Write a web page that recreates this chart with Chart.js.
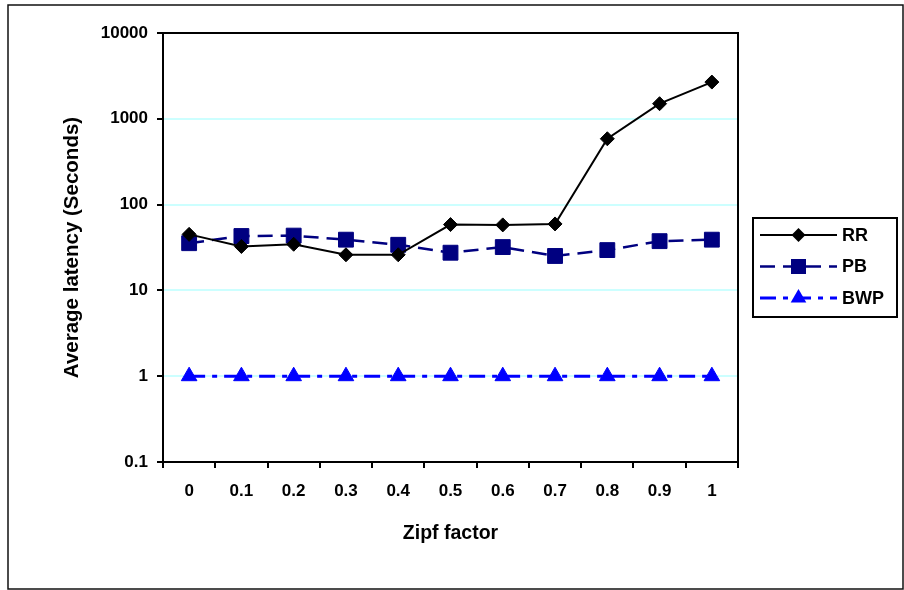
<!DOCTYPE html>
<html>
<head>
<meta charset="utf-8">
<script src="https://cdn.jsdelivr.net/npm/chart.js@4.4.1/dist/chart.umd.min.js"></script>
<style>
  html, body { margin: 0; padding: 0; background: #fff; }
  #wrap { width: 904px; height: 590px; position: relative; }
</style>
</head>
<body>
<div id="wrap"><canvas id="latencyChart" width="904" height="590"></canvas></div>
<script>
// Zipf factor categories
const zipfLabels = ['0', '0.1', '0.2', '0.3', '0.4', '0.5', '0.6', '0.7', '0.8', '0.9', '1'];

// Average latency (seconds)
const rrValues  = [45, 32.5, 34.5, 26, 26, 58.5, 58, 59.5, 585, 1500, 2680];
const pbValues  = [35.5, 43, 43.5, 39, 34, 27.5, 32, 25.2, 29.5, 37.5, 39];
const bwpValues = [1, 1, 1, 1, 1, 1, 1, 1, 1, 1, 1];

// y axis tick labels (log scale)
const yTickValues = [0.1, 1, 10, 100, 1000, 10000];

const FONT = "'Liberation Sans', Arial, sans-serif";

// frame round the whole chart + top/right edge of the plot area
const framePlugin = {
  id: 'frame',
  beforeDraw(chart) {
    const ctx = chart.ctx;
    ctx.save();
    ctx.fillStyle = '#fff';
    ctx.fillRect(0, 0, chart.width, chart.height);
    ctx.strokeStyle = '#111';
    ctx.lineWidth = 1.5;
    ctx.strokeRect(8, 5, 895, 584);
    ctx.restore();
  },
  afterDatasetsDraw(chart) {
    const { left, right, top, bottom } = chart.chartArea;
    const ctx = chart.ctx;
    ctx.save();
    ctx.strokeStyle = '#000';
    ctx.lineWidth = 2;
    ctx.beginPath();
    ctx.moveTo(left, top);
    ctx.lineTo(right, top);
    ctx.lineTo(right, bottom);
    ctx.stroke();
    ctx.restore();
  }
};

function drawMarker(ctx, style, x, y, color) {
  ctx.fillStyle = color;
  ctx.beginPath();
  if (style === 'rectRot') {
    ctx.moveTo(x - 7, y); ctx.lineTo(x, y - 7); ctx.lineTo(x + 7, y); ctx.lineTo(x, y + 7);
  } else if (style === 'rect') {
    ctx.rect(x - 7.5, y - 7.5, 15, 15);
  } else {
    ctx.moveTo(x, y - 9); ctx.lineTo(x + 7.8, y + 4.5); ctx.lineTo(x - 7.8, y + 4.5);
  }
  ctx.closePath();
  ctx.fill();
}

// boxed legend with line sample and marker in the middle
const boxLegend = {
  id: 'boxLegend',
  afterDraw(chart) {
    const ctx = chart.ctx;
    ctx.save();
    ctx.strokeStyle = '#000';
    ctx.lineWidth = 2;
    ctx.strokeRect(753, 218, 144, 99);
    chart.data.datasets.forEach((ds, i) => {
      const y = 235 + i * 31.5;
      ctx.strokeStyle = ds.borderColor;
      ctx.lineWidth = ds.borderWidth;
      ctx.setLineDash(ds.borderDash || []);
      ctx.beginPath();
      ctx.moveTo(760, y);
      ctx.lineTo(837, y);
      ctx.stroke();
      ctx.setLineDash([]);
      drawMarker(ctx, ds.pointStyle, 798.5, y, ds.pointBackgroundColor);
      ctx.fillStyle = '#000';
      ctx.font = 'bold 18px ' + FONT;
      ctx.textBaseline = 'middle';
      ctx.textAlign = 'left';
      ctx.fillText(ds.label, 842, y + 1);
    });
    ctx.restore();
  }
};

const ctx = document.getElementById('latencyChart').getContext('2d');
new Chart(ctx, {
  type: 'line',
  data: {
    labels: zipfLabels,
    datasets: [
      {
        label: 'RR',
        data: rrValues,
        borderColor: '#000000',
        backgroundColor: '#000000',
        borderWidth: 2,
        pointStyle: 'rectRot',
        pointRadius: 7,
        pointBackgroundColor: '#000000',
        pointBorderColor: '#000000',
        pointBorderWidth: 1,
        tension: 0
      },
      {
        label: 'PB',
        data: pbValues,
        borderColor: '#000080',
        backgroundColor: '#000080',
        borderWidth: 2.5,
        borderDash: [15, 8],
        pointStyle: 'rect',
        pointRadius: 10.5,
        pointBackgroundColor: '#000080',
        pointBorderColor: '#000080',
        pointBorderWidth: 1,
        tension: 0
      },
      {
        label: 'BWP',
        data: bwpValues,
        borderColor: '#0000ff',
        backgroundColor: '#0000ff',
        borderWidth: 3,
        borderDash: [16, 7, 5, 7],
        pointStyle: 'triangle',
        pointRadius: 9,
        pointBackgroundColor: '#0000ff',
        pointBorderColor: '#0000ff',
        pointBorderWidth: 1,
        tension: 0
      }
    ]
  },
  options: {
    responsive: false,
    animation: false,
    layout: { padding: { top: 33, right: 166, left: 0, bottom: 0 } },
    plugins: {
      legend: { display: false },
      tooltip: { enabled: false }
    },
    scales: {
      x: {
        offset: true,
        afterFit: function(scale) { scale.height = 128; },
        grid: {
          display: true,
          drawOnChartArea: false,
          offset: true,
          tickLength: 6,
          color: '#000',
          lineWidth: 2
        },
        border: { color: '#000', width: 2 },
        ticks: {
          color: '#000',
          padding: 13,
          maxRotation: 0,
          font: { family: FONT, size: 17, weight: 'bold' }
        },
        title: {
          display: true,
          text: 'Zipf factor',
          color: '#000',
          padding: { top: 0, bottom: 45 },
          font: { family: FONT, size: 19.5, weight: 'bold' }
        }
      },
      y: {
        type: 'logarithmic',
        min: 0.1,
        max: 10000,
        afterFit: function(scale) { scale.width = 163; },
        afterBuildTicks: function(scale) {
          scale.ticks = yTickValues.map(v => ({ value: v }));
        },
        grid: {
          color: '#ccffff',
          lineWidth: 2,
          tickColor: '#000',
          tickLength: 6
        },
        border: { color: '#000', width: 2 },
        ticks: {
          color: '#000',
          padding: 9,
          font: { family: FONT, size: 17, weight: 'bold' },
          callback: function(value) { return String(value); }
        },
        title: {
          display: true,
          text: 'Average latency (Seconds)',
          color: '#000',
          padding: { top: 60, bottom: 0 },
          font: { family: FONT, size: 20.5, weight: 'bold' }
        }
      }
    }
  },
  plugins: [framePlugin, boxLegend]
});
</script>
</body>
</html>
